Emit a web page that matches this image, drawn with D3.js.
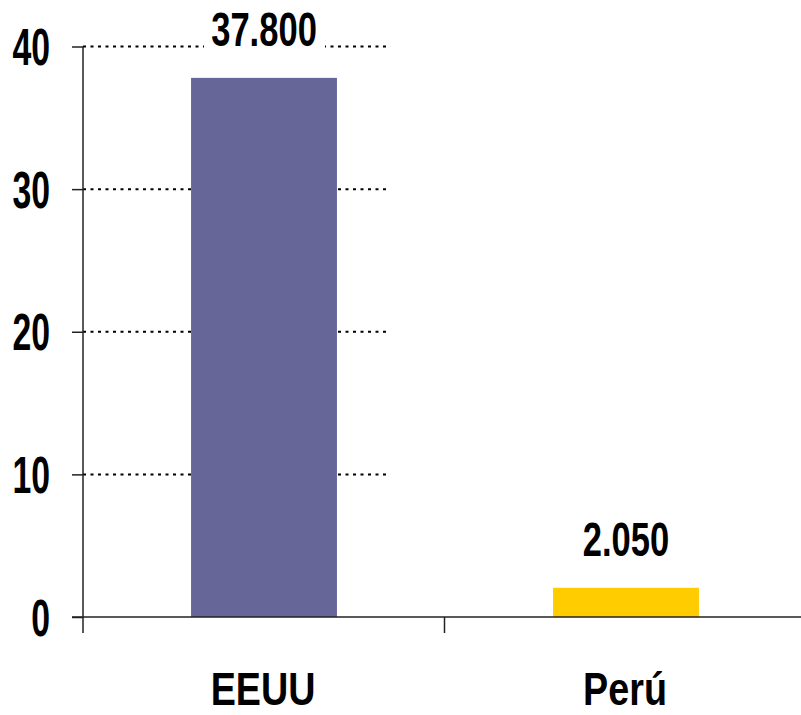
<!DOCTYPE html>
<html>
<head>
<meta charset="utf-8">
<script src="https://cdn.jsdelivr.net/npm/d3@7/dist/d3.min.js"></script>
<style>
  html, body { margin: 0; padding: 0; background: #ffffff; }
  svg { display: block; }
  text { font-family: "Liberation Sans Narrow", "Arial Narrow", "Liberation Sans", Arial, sans-serif; font-weight: bold; fill: #000; }
</style>
</head>
<body>
<script>
// Categories and values (units)
const categories = ["EEUU", "Perú"];
const values = [37800, 2050];
const barColors = ["#666699", "#FFCC00"];
// Axis ticks, shown in thousands
const tickValues = [0, 10000, 20000, 30000, 40000];
const tickLabels = ["0", "10", "20", "30", "40"];

const W = 801, H = 715;
const svg = d3.select("body").append("svg").attr("width", W).attr("height", H);

const es = d3.formatLocale({ decimal: ",", thousands: ".", grouping: [3], currency: ["", ""] });
const fmt = es.format(",.0f");

const y = d3.scaleLinear().domain([0, 40000]).range([617, 46.5]);
const x = d3.scaleBand().domain(categories).range([83, 807]).paddingInner(0.597).paddingOuter(0.2985);

// dotted gridlines in the left part of the plot
svg.append("g").selectAll("line")
  .data(tickValues.filter(d => d > 0))
  .join("line")
  .attr("x1", 83).attr("x2", 388)
  .attr("y1", d => y(d)).attr("y2", d => y(d))
  .attr("stroke", "#000").attr("stroke-width", 2)
  .attr("stroke-dasharray", "3,4.5");

// bars
svg.append("g").selectAll("rect")
  .data(values)
  .join("rect")
  .attr("x", (d, i) => x(categories[i]))
  .attr("width", x.bandwidth())
  .attr("y", d => y(d))
  .attr("height", d => y(0) - y(d))
  .attr("fill", (d, i) => barColors[i]);

// y axis
const yAxis = d3.axisLeft(y).tickValues(tickValues).tickSize(11).tickFormat((d, i) => tickLabels[i]);
const gy = svg.append("g").attr("transform", "translate(83,0)").call(yAxis);
gy.select(".domain").remove();
gy.selectAll(".tick line").attr("stroke", "#222").attr("stroke-width", 1.5);
gy.selectAll(".tick text").remove();
gy.append("line").attr("x1", 0).attr("x2", 0).attr("y1", y(40000)).attr("y2", 633)
  .attr("stroke", "#222").attr("stroke-width", 1.5);

// y tick labels
svg.append("g").selectAll("text")
  .data(tickValues)
  .join("text")
  .attr("transform", d => `translate(50,${y(d) + 18.5}) scale(0.65,1)`)
  .attr("text-anchor", "end")
  .attr("font-size", 52)
  .text((d, i) => tickLabels[i]);

// x axis line and category boundary ticks
svg.append("line").attr("x1", 72).attr("x2", W).attr("y1", y(0)).attr("y2", y(0))
  .attr("stroke", "#222").attr("stroke-width", 1.5);
svg.append("g").selectAll("line")
  .data([categories[1]])
  .join("line")
  .attr("x1", d => x(d) - x.step() * x.paddingInner() / 2 - 0.5)
  .attr("x2", d => x(d) - x.step() * x.paddingInner() / 2 - 0.5)
  .attr("y1", y(0)).attr("y2", 633)
  .attr("stroke", "#222").attr("stroke-width", 1.5);

// category labels
svg.append("g").selectAll("text")
  .data(categories)
  .join("text")
  .attr("transform", d => `translate(${x(d) + x.bandwidth() / 2 - 1},705) scale(0.82,1)`)
  .attr("text-anchor", "middle")
  .attr("font-size", 46)
  .text(d => d);

// value labels with white backing
const vl = svg.append("g").selectAll("g")
  .data(values)
  .join("g")
  .attr("transform", (d, i) => `translate(${x(categories[i]) + x.bandwidth() / 2},${y(d) - 31.5})`);
vl.append("rect")
  .attr("x", -60).attr("width", 121).attr("y", -37).attr("height", 40)
  .attr("fill", "#fff");
vl.append("text")
  .attr("transform", "scale(0.72,1)")
  .attr("text-anchor", "middle")
  .attr("font-size", 48)
  .text(d => fmt(d));
</script>
</body>
</html>
